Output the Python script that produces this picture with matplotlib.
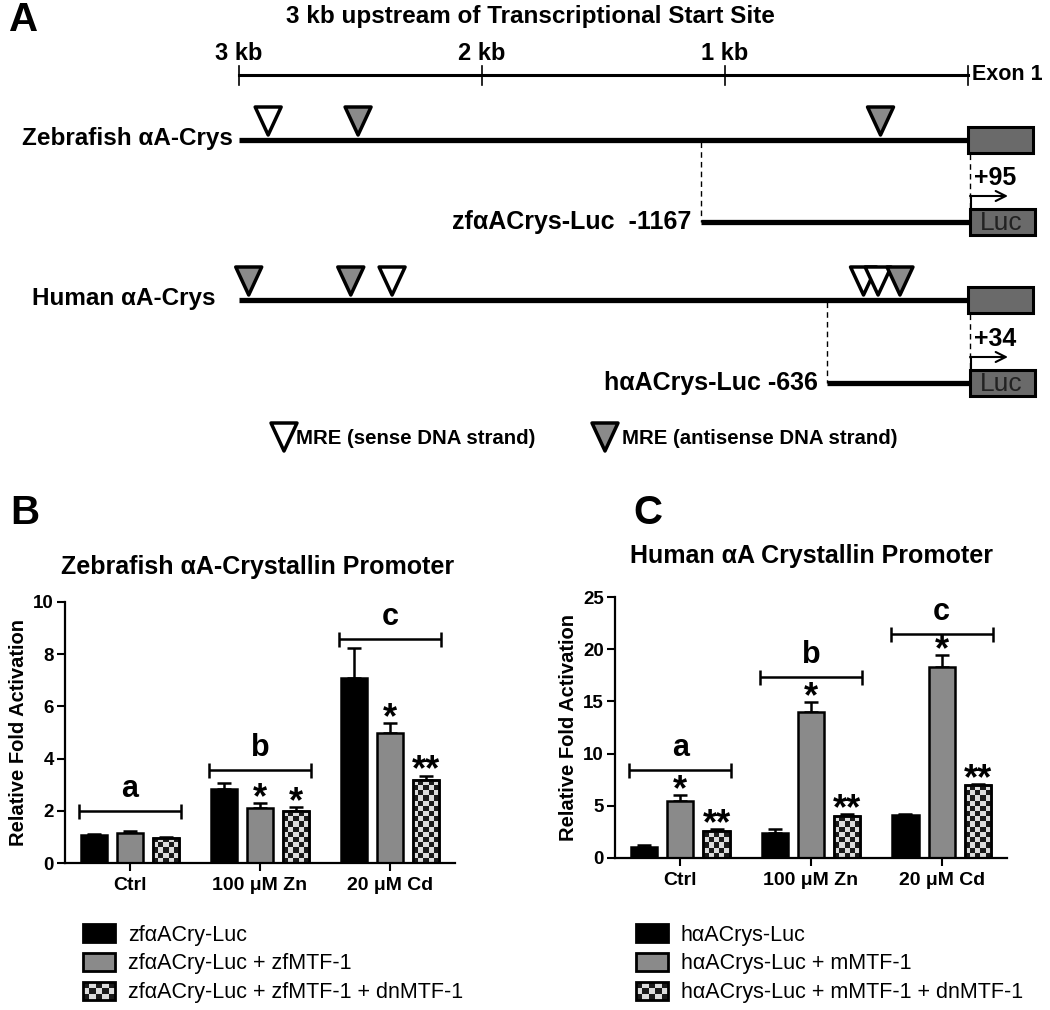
import numpy as np
import matplotlib
matplotlib.use("Agg")
import matplotlib.pyplot as plt
from matplotlib.patches import Rectangle, Polygon
from matplotlib.collections import PatchCollection
from matplotlib.legend_handler import HandlerBase

# --- datos panel B (pez cebra) ---
groups = ["Ctrl", "100 \u03bcM Zn", "20 \u03bcM Cd"]
zf_labels = ["zf\u03b1ACry-Luc", "zf\u03b1ACry-Luc + zfMTF-1",
             "zf\u03b1ACry-Luc + zfMTF-1 + dnMTF-1"]
zf_luc = [1.07, 2.83, 7.07]
zf_luc_err = [0.05, 0.24, 1.17]
zf_mtf = [1.15, 2.10, 4.98]
zf_mtf_err = [0.07, 0.20, 0.38]
zf_dn = [0.95, 2.00, 3.18]
zf_dn_err = [0.04, 0.15, 0.17]
zf_mtf_sig = ["", "*", "*"]
zf_dn_sig = ["", "*", "**"]

# --- datos panel C (humano) ---
h_labels = ["h\u03b1ACrys-Luc", "h\u03b1ACrys-Luc + mMTF-1",
            "h\u03b1ACrys-Luc + mMTF-1 + dnMTF-1"]
h_luc = [1.05, 2.40, 4.10]
h_luc_err = [0.15, 0.40, 0.15]
h_mtf = [5.50, 13.95, 18.30]
h_mtf_err = [0.55, 0.95, 1.15]
h_dn = [2.60, 4.00, 6.95]
h_dn_err = [0.15, 0.20, 0.15]
h_mtf_sig = ["*", "*", "*"]
h_dn_sig = ["**", "**", "**"]

group_letters = ["a", "b", "c"]

# --- datos panel A (posiciones MRE en kb antes del TSS) ---
scale_kb = [3, 2, 1]
zf_sense_kb = [2.88]
zf_antisense_kb = [2.51, 0.36]
h_sense_kb = [2.37, 0.43, 0.37]
h_antisense_kb = [2.96, 2.54, 0.28]
zf_construct_kb = 1.10
h_construct_kb = 0.58

plt.rcParams["font.family"] = ["Liberation Sans", "DejaVu Sans"]
plt.rcParams["font.weight"] = "bold"
plt.rcParams["axes.labelweight"] = "bold"

W, H = 1050, 1010
BLACK = "#000000"
GRAY = "#8a8a8a"
DARK = "#6a6a6a"
LIGHT = "#dcdcdc"
CHK = "#1a1a1a"

fig = plt.figure(figsize=(W / 100, H / 100), dpi=100)
ax0 = fig.add_axes([0, 0, 1, 1])
ax0.set_xlim(0, W)
ax0.set_ylim(H, 0)
ax0.axis("off")


def kbx(kb):
    return 968 - kb * 243


# Panel A
ax0.text(24, 20, "A", fontsize=29, ha="center", va="center")
ax0.text(530, 16, "3 kb upstream of Transcriptional Start Site", fontsize=17.5,
         ha="center", va="center")
ax0.plot([kbx(3), kbx(0)], [75, 75], color=BLACK, lw=2.2)
for kb in scale_kb + [0]:
    ax0.plot([kbx(kb), kbx(kb)], [66, 85], color=BLACK, lw=1.2)
for kb in scale_kb:
    ax0.text(kbx(kb), 53, f"{kb} kb", fontsize=17, ha="center", va="center")
ax0.text(972, 75, "Exon 1", fontsize=15.5, ha="left", va="center")


def triangle(x, ytip, fill):
    ax0.add_patch(Polygon([(x - 13, ytip - 28), (x + 13, ytip - 28), (x, ytip)],
                          closed=True, fc=fill, ec=BLACK, lw=2.5,
                          joinstyle="round", zorder=3))


def gene_row(y, label, label_x, sense, antisense):
    ax0.plot([kbx(3), kbx(0)], [y, y], color=BLACK, lw=3.8, solid_capstyle="butt")
    ax0.add_patch(Rectangle((968, y - 13), 65, 26, fc=DARK, ec=BLACK, lw=2.2))
    ax0.text(label_x, y - 2, label, fontsize=17.5, ha="right", va="center")
    for kb in sense:
        triangle(kbx(kb), y - 5, "white")
    for kb in antisense:
        triangle(kbx(kb), y - 5, GRAY)


def construct_row(y_gene, y, kb, label, tss):
    x = kbx(kb)
    ax0.plot([x, x], [y_gene + 2, y], color=BLACK, lw=1, ls=(0, (4, 3)))
    ax0.plot([970, 970], [y_gene + 14, y - 13], color=BLACK, lw=1, ls=(0, (4, 3)))
    ax0.plot([x, 970], [y, y], color=BLACK, lw=3.8, solid_capstyle="butt")
    ax0.add_patch(Rectangle((970, y - 13), 65, 26, fc=DARK, ec=BLACK, lw=2.2))
    ax0.text(1001, y + 1, "Luc", fontsize=19, fontweight="normal", color="#222222",
             ha="center", va="center")
    ax0.text(x - 9, y, label, fontsize=18, ha="right", va="center")
    ax0.plot([971, 971], [y - 13, y - 26], color=BLACK, lw=1.5)
    ax0.annotate("", xy=(1008, y - 26), xytext=(970, y - 26),
                 arrowprops=dict(arrowstyle="->", lw=1.5, color=BLACK,
                                 shrinkA=0, shrinkB=0, mutation_scale=18))
    ax0.text(974, y - 44, tss, fontsize=18, ha="left", va="center")


gene_row(140, "Zebrafish \u03b1A-Crys", 233, zf_sense_kb, zf_antisense_kb)
construct_row(140, 222, zf_construct_kb, "zf\u03b1ACrys-Luc  -1167", "+95")
gene_row(300, "Human \u03b1A-Crys", 215, h_sense_kb, h_antisense_kb)
construct_row(300, 383, h_construct_kb, "h\u03b1ACrys-Luc -636", "+34")

# leyenda MRE
triangle(284, 451, "white")
ax0.text(296, 438, "MRE (sense DNA strand)", fontsize=14.7, ha="left", va="center")
triangle(605, 451, GRAY)
ax0.text(622, 438, "MRE (antisense DNA strand)", fontsize=14.7, ha="left", va="center")

ax0.text(25, 513, "B", fontsize=29, ha="center", va="center")
ax0.text(648, 513, "C", fontsize=29, ha="center", va="center")


class HandlerChecker(HandlerBase):
    def create_artists(self, legend, orig_handle, xdescent, ydescent,
                       width, height, fontsize, trans):
        nx, ny = 5, 3
        cells = []
        for i in range(nx):
            for j in range(ny):
                if (i + j) % 2 == 0:
                    cells.append(Rectangle((-xdescent + i * width / nx,
                                            -ydescent + j * height / ny),
                                           width / nx, height / ny))
        bg = Rectangle((-xdescent, -ydescent), width, height, fc=LIGHT,
                       ec="none", transform=trans)
        pc = PatchCollection(cells, facecolor=CHK, edgecolor="none",
                             transform=trans)
        border = Rectangle((-xdescent, -ydescent), width, height, fill=False,
                           ec=BLACK, lw=2, transform=trans)
        return [bg, pc, border]


def checker_bar(ax, bar, ncol=5):
    x0, w, h = bar.get_x(), bar.get_width(), bar.get_height()
    xr = ax.get_xlim()[1] - ax.get_xlim()[0]
    yr = ax.get_ylim()[1] - ax.get_ylim()[0]
    cw = w / ncol
    ch = cw * ax.bbox.width / xr / (ax.bbox.height / yr)
    nrow = int(np.ceil(h / ch))
    cells = [Rectangle((x0 + i * cw, j * ch), cw, ch)
             for i in range(ncol) for j in range(nrow) if (i + j) % 2 == 0]
    pc = PatchCollection(cells, facecolor=CHK, edgecolor="none", zorder=2.5)
    ax.add_collection(pc)
    pc.set_clip_path(bar)


def bar_panel(rect, title, title_xy, series, errs, sigs, labels, ymax, yticks,
              bracket_y, leg_x):
    ax = fig.add_axes(rect)
    ax.set_xlim(-0.5, 2.5)
    ax.set_ylim(0, ymax)
    x = np.arange(len(groups))
    off = 0.277
    bw = 0.2
    faces = [BLACK, GRAY, LIGHT]
    for k, (vals, err, fc) in enumerate(zip(series, errs, faces)):
        xs = x + (k - 1) * off
        ax.errorbar(xs, vals, yerr=[np.zeros(3), err], fmt="none", ecolor=BLACK,
                    elinewidth=1.8, capsize=4.7, capthick=1.8, zorder=1)
        bars = ax.bar(xs, vals, bw, color=fc, edgecolor=BLACK, lw=1.8, zorder=2)
        if k == 2:
            for b in bars:
                checker_bar(ax, b)
            ax.bar(xs, vals, bw, facecolor="none", edgecolor=BLACK, lw=1.8, zorder=3)
        if k > 0:
            for xi, v, e, s in zip(xs, vals, err, sigs[k - 1]):
                if s:
                    ax.annotate(s, (xi, v + e), xytext=(0, -3.5), textcoords="offset points",
                                ha="center", va="baseline", fontsize=26)
    for g, yb, letter in zip(x, bracket_y, group_letters):
        ax.errorbar(g, yb, xerr=0.39, fmt="none", ecolor=BLACK, elinewidth=1.8,
                    capsize=5.4, capthick=1.8)
        ax.annotate(letter, (g, yb), xytext=(0, 16), textcoords="offset points",
                    ha="center", va="center", fontsize=22)
    for s in ["top", "right"]:
        ax.spines[s].set_visible(False)
    for s in ["left", "bottom"]:
        ax.spines[s].set_linewidth(1.6)
    ax.set_yticks(yticks)
    ax.set_xticks(x)
    ax.set_xticklabels(groups)
    ax.tick_params(axis="y", length=6, width=1.5, labelsize=13.5, pad=2)
    ax.tick_params(axis="x", length=6, width=1.5, labelsize=14, pad=4)
    for t in ax.get_xticklabels() + ax.get_yticklabels():
        t.set_fontweight("bold")
    ax.set_ylabel("Relative Fold Activation", fontsize=14.5, fontweight="bold")
    ax.yaxis.set_label_coords(-0.095, 0.5)
    fig.text(title_xy[0] / W, 1 - title_xy[1] / H, title, fontsize=18,
             ha="center", va="center")
    handles = [Rectangle((0, 0), 1, 1, fc=fc, ec=BLACK, lw=2) for fc in faces]
    ax.legend(handles, labels, handler_map={handles[2]: HandlerChecker()},
              loc="upper left", bbox_to_anchor=(leg_x / W, 1 - 924 / H),
              bbox_transform=fig.transFigure, frameon=False, borderpad=0,
              borderaxespad=0, handlelength=1.49, handleheight=0.93,
              labelspacing=0.34, handletextpad=0.6,
              prop={"size": 15.5, "weight": "normal"})
    return ax


bar_panel([65 / W, 1 - 863 / H, 390 / W, 261 / H],
          "Zebrafish \u03b1A-Crystallin Promoter", (258, 567),
          [zf_luc, zf_mtf, zf_dn], [zf_luc_err, zf_mtf_err, zf_dn_err],
          [zf_mtf_sig, zf_dn_sig], zf_labels, 10, [0, 2, 4, 6, 8, 10],
          [2.0, 3.56, 8.58], 83)

bar_panel([615 / W, 1 - 858 / H, 392 / W, 261 / H],
          "Human \u03b1A Crystallin Promoter", (811, 556),
          [h_luc, h_mtf, h_dn], [h_luc_err, h_mtf_err, h_dn_err],
          [h_mtf_sig, h_dn_sig], h_labels, 25, [0, 5, 10, 15, 20, 25],
          [8.4, 17.3, 21.45], 636)

fig.savefig("out.png", dpi=100)
